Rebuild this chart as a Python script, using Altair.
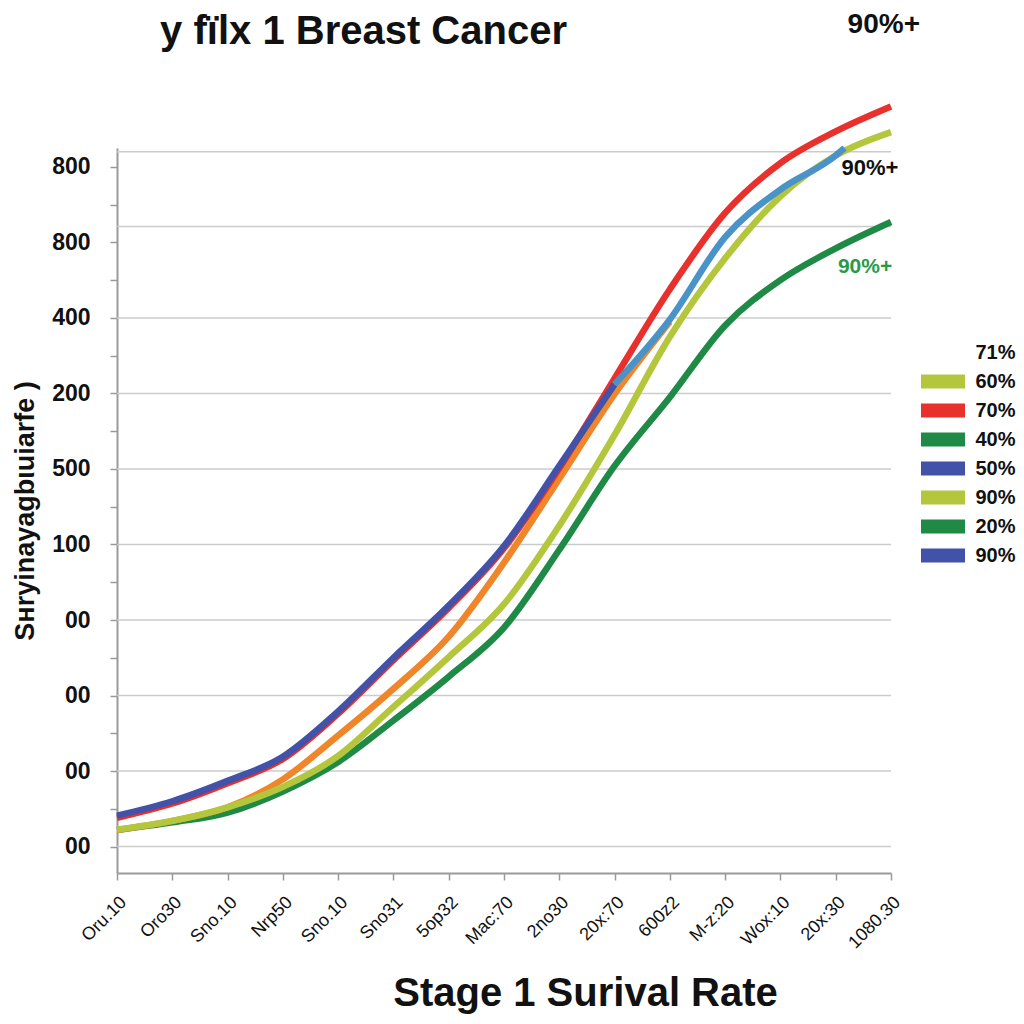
import json
import altair as alt
import pandas as pd

FONT = "Liberation Sans"

# ---- data ----
x_labels = ["Oru.10", "Oro30", "Sno.10", "Nrp50", "Sno.10", "Sno31", "5op32", "Mac:70",
            "2no30", "20x:70", "600z2", "M-z:20", "Wox:10", "20x:30", "1080.30"]
y_labels = ["00", "00", "00", "00", "100", "500", "200", "400", "800", "800"]

green_x = list(range(15))
green_y = [0.22, 0.32, 0.45, 0.73, 1.12, 1.67, 2.25, 2.90, 3.93, 5.04, 5.95, 6.90, 7.50, 7.92, 8.27]
orange_x = list(range(11))
orange_y = [0.22, 0.34, 0.52, 0.89, 1.47, 2.09, 2.78, 3.76, 4.87, 5.99, 6.95]
yg_x = list(range(15))
yg_y = [0.225, 0.34, 0.52, 0.79, 1.20, 1.85, 2.51, 3.21, 4.25, 5.45, 6.75, 7.79, 8.61, 9.15, 9.46]
red_x = list(range(15))
red_y = [0.38, 0.57, 0.84, 1.16, 1.76, 2.47, 3.16, 3.95, 5.01, 6.20, 7.38, 8.39, 9.05, 9.47, 9.80]
blue_x = list(range(10))
blue_y = [0.41, 0.60, 0.87, 1.19, 1.79, 2.50, 3.19, 3.98, 5.04, 6.12]
lblue_x = [9, 10, 11, 12, 13, 13.16]
lblue_y = [6.12, 6.98, 8.07, 8.70, 9.15, 9.25]

series = [
    ("green", green_x, green_y, "#1f8a45"),
    ("orange", orange_x, orange_y, "#f0862a"),
    ("yellowgreen", yg_x, yg_y, "#b4c73c"),
    ("red", red_x, red_y, "#e8302c"),
    ("blue", blue_x, blue_y, "#4152a8"),
    ("lightblue", lblue_x, lblue_y, "#4a93c8"),
]

grid_y = [0, 1, 2, 3, 4, 5, 6, 7, 8.21, 9.2]

legend_labels = ["60%", "70%", "40%", "50%", "90%", "20%", "90%"]
legend_colors = ["#b4c73c", "#e8302c", "#1f8a45", "#4152a8", "#b4c73c", "#1f8a45", "#4152a8"]

title_text = "y fïlx 1 Breast Cancer"
title_pos = (0.78, 10.79)

ann_text = ["90%+", "90%+", "90%+"]
ann_x = [13.87, 13.62, 13.53]
ann_y = [10.88, 8.98, 7.67]
ann_color = ["#111111", "#111111", "#2a9a4a"]
ann_size = [28, 22, 21]

# ---- encodings ----
W, H = 774, 725
xlab_expr = json.dumps(x_labels) + "[datum.value]"
ylab_expr = "(datum.value % 1 == 0) ? " + json.dumps(y_labels) + "[datum.value] : ''"

x_enc = alt.X("x:Q", scale=alt.Scale(domain=[0, 14], nice=False, zero=False),
              axis=alt.Axis(values=list(range(15)), labelExpr=xlab_expr, labelAngle=-45,
                            labelAlign="right", labelBaseline="top",
                            labelFont=FONT, labelFontSize=18, labelColor="#111111",
                            labelPadding=13, labelOverlap=False,
                            tickSize=7, tickColor="#9a9a9a", tickWidth=1.5,
                            domainColor="#9a9a9a", domainWidth=2, grid=False,
                            title="Stage 1 Surival Rate", titleFont=FONT, titleFontSize=40,
                            titleFontWeight="bold", titleColor="#111111",
                            titleX=468, titleY=100, titleBaseline="top"))
y_enc = alt.Y("y:Q", scale=alt.Scale(domain=[-0.35, 9.25], nice=False, zero=False),
              axis=alt.Axis(values=[i * 0.5 for i in range(19)], labelExpr=ylab_expr,
                            labelFont=FONT, labelFontSize=23, labelFontWeight="bold",
                            labelColor="#111111", labelPadding=20, labelOverlap=False,
                            tickSize=7, tickColor="#9a9a9a", tickWidth=1.5,
                            domainColor="#9a9a9a", domainWidth=2, grid=False,
                            title="Sнryinayagbιuiarfe )", titleFont=FONT, titleFontSize=27,
                            titleFontWeight="bold", titleColor="#111111",
                            titleX=-78))

layers = []

grid_df = pd.DataFrame({"y": grid_y})
layers.append(alt.Chart(grid_df).mark_rule(color="#cccccc", strokeWidth=1.5).encode(y=y_enc))

for name, xs, ys, col in series:
    df = pd.DataFrame({"x": xs, "y": ys, "series": name})
    layers.append(
        alt.Chart(df).mark_line(color=col, strokeWidth=6.5, interpolate="monotone",
                                strokeCap="butt").encode(x=x_enc, y=y_enc)
    )

ann_df = pd.DataFrame({"t": ann_text, "x": ann_x, "y": ann_y, "c": ann_color, "s": ann_size})
layers.append(
    alt.Chart(ann_df).mark_text(font=FONT, fontWeight="bold", align="center", baseline="middle")
    .encode(x=x_enc, y=y_enc, text="t:N", color=alt.Color("c:N", scale=None),
            size=alt.Size("s:Q", scale=None))
)

title_df = pd.DataFrame({"t": [title_text], "x": [title_pos[0]], "y": [title_pos[1]]})
layers.append(
    alt.Chart(title_df).mark_text(font=FONT, fontWeight="bold", align="left", baseline="middle",
                                  fontSize=40, color="#111111")
    .encode(x=x_enc, y=y_enc, text="t:N")
)

leg_df = pd.DataFrame({"key": list(range(len(legend_labels)))})
leg_expr = json.dumps(legend_labels) + "[datum.value]"
layers.append(
    alt.Chart(leg_df).mark_point(filled=True, opacity=0, size=1)
    .encode(x=alt.value(0), y=alt.value(0),
            color=alt.Color("key:N",
                            scale=alt.Scale(domain=list(range(len(legend_labels))),
                                            range=legend_colors),
                            legend=alt.Legend(title="71%", orient="none", legendX=807.5,
                                              legendY=195,
                                              symbolType="M-1.19,-0.38H1.19V0.38H-1.19Z",
                                              symbolSize=1369, symbolStrokeWidth=0,
                                              symbolOpacity=1, labelExpr=leg_expr,
                                              labelFont=FONT, labelFontSize=20,
                                              labelFontWeight="bold", labelColor="#111111",
                                              labelOffset=14, rowPadding=0, padding=0,
                                              titleFont=FONT, titleFontSize=20,
                                              titleFontWeight="bold", titleColor="#111111",
                                              titleAnchor="end", titlePadding=0)))
)

chart = alt.layer(*layers).properties(
    width=W, height=H,
    autosize=alt.AutoSizeParams(type="none"),
    padding={"left": 109, "top": 140, "right": 125, "bottom": 143},
).configure_view(stroke=None)

chart.save("out.html", embed_options={"renderer": "svg", "actions": False})
